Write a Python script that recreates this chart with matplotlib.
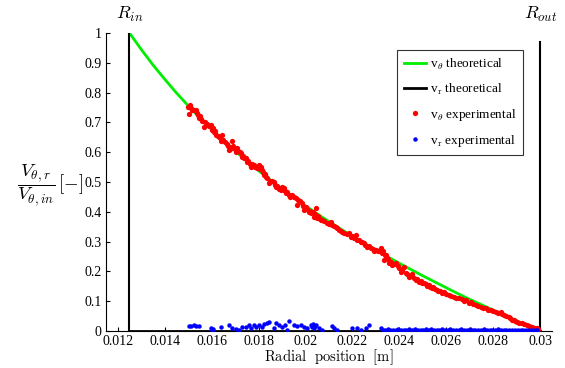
import matplotlib
matplotlib.use("Agg")
import matplotlib.pyplot as plt

plt.rcParams['mathtext.fontset'] = 'cm'
plt.rcParams['font.family'] = ['Liberation Serif', 'DejaVu Serif']

# Theoretical curves
theo_x = [0.0125, 0.0130, 0.0135, 0.0140, 0.0145, 0.0150, 0.0155, 0.0160, 0.0165, 0.0170,
          0.0175, 0.0180, 0.0185, 0.0190, 0.0195, 0.0200, 0.0205, 0.0210, 0.0215, 0.0220,
          0.0225, 0.0230, 0.0235, 0.0240, 0.0245, 0.0250, 0.0255, 0.0260, 0.0265, 0.0270,
          0.0275, 0.0280, 0.0285, 0.0290, 0.0295, 0.0298]
theo_vtheta = [1.000, 0.945, 0.893, 0.845, 0.799, 0.756, 0.715, 0.676, 0.639, 0.604,
               0.570, 0.538, 0.507, 0.477, 0.448, 0.420, 0.393, 0.367, 0.342, 0.318,
               0.294, 0.271, 0.249, 0.227, 0.206, 0.185, 0.165, 0.145, 0.125, 0.106,
               0.088, 0.070, 0.052, 0.034, 0.017, 0.010]
vr_theo_x = [0.0125, 0.0300]
vr_theo_y = [0.0, 0.0]
r_in = 0.0125
r_out = 0.0300

# Experimental v_theta
exp_vt_x = [0.01500, 0.01503, 0.01508, 0.01512, 0.01518, 0.01525, 0.01533, 0.01537, 0.01542, 0.01546,
            0.01550, 0.01555, 0.01560, 0.01567, 0.01572, 0.01580, 0.01588, 0.01597, 0.01601, 0.01606,
            0.01610, 0.01614, 0.01618, 0.01625, 0.01632, 0.01640, 0.01644, 0.01650, 0.01656, 0.01665,
            0.01670, 0.01674, 0.01680, 0.01686, 0.01690, 0.01695, 0.01703, 0.01708, 0.01714, 0.01720,
            0.01725, 0.01729, 0.01735, 0.01740, 0.01746, 0.01750, 0.01756, 0.01762, 0.01767, 0.01772,
            0.01780, 0.01786, 0.01795, 0.01801, 0.01806, 0.01810, 0.01814, 0.01818, 0.01823, 0.01828,
            0.01831, 0.01837, 0.01844, 0.01850, 0.01858, 0.01865, 0.01870, 0.01874, 0.01880, 0.01887,
            0.01895, 0.01900, 0.01908, 0.01912, 0.01916, 0.01922, 0.01929, 0.01935, 0.01942, 0.01950,
            0.01959, 0.01963, 0.01968, 0.01975, 0.01984, 0.01990, 0.01993, 0.02000, 0.02006, 0.02014,
            0.02020, 0.02023, 0.02030, 0.02036, 0.02040, 0.02044, 0.02048, 0.02055, 0.02060, 0.02065,
            0.02072, 0.02080, 0.02091, 0.02100, 0.02108, 0.02112, 0.02120, 0.02129, 0.02135, 0.02142,
            0.02150, 0.02155, 0.02165, 0.02175, 0.02184, 0.02193, 0.02200, 0.02207, 0.02214, 0.02218,
            0.02226, 0.02235, 0.02241, 0.02248, 0.02255, 0.02261, 0.02270, 0.02278, 0.02286, 0.02293,
            0.02300, 0.02310, 0.02321, 0.02325, 0.02330, 0.02334, 0.02338, 0.02342, 0.02346, 0.02350,
            0.02355, 0.02362, 0.02368, 0.02375, 0.02385, 0.02392, 0.02400, 0.02406, 0.02412, 0.02419,
            0.02427, 0.02433, 0.02440, 0.02447, 0.02453, 0.02460, 0.02470, 0.02476, 0.02483, 0.02490,
            0.02497, 0.02504, 0.02512, 0.02518, 0.02525, 0.02532, 0.02538, 0.02545, 0.02552, 0.02559,
            0.02566, 0.02574, 0.02581, 0.02590, 0.02600, 0.02610, 0.02620, 0.02632, 0.02642, 0.02653,
            0.02665, 0.02675, 0.02683, 0.02696, 0.02705, 0.02715, 0.02725, 0.02735, 0.02746, 0.02755,
            0.02768, 0.02778, 0.02789, 0.02800, 0.02810, 0.02820, 0.02831, 0.02838, 0.02844, 0.02852,
            0.02865, 0.02872, 0.02878, 0.02886, 0.02893, 0.02900, 0.02910, 0.02921, 0.02930, 0.02942,
            0.02950, 0.02959, 0.02966, 0.02972, 0.02980, 0.02985, 0.02990]
exp_vt_y = [0.752, 0.728, 0.758, 0.748, 0.740, 0.742, 0.742, 0.732, 0.726, 0.715,
            0.722, 0.711, 0.705, 0.685, 0.700, 0.694, 0.688, 0.691, 0.674, 0.680,
            0.668, 0.672, 0.658, 0.655, 0.650, 0.638, 0.658, 0.640, 0.634, 0.628,
            0.620, 0.607, 0.612, 0.638, 0.622, 0.614, 0.601, 0.614, 0.605, 0.600,
            0.597, 0.584, 0.586, 0.582, 0.580, 0.567, 0.570, 0.560, 0.550, 0.562,
            0.556, 0.552, 0.548, 0.557, 0.545, 0.550, 0.540, 0.532, 0.523, 0.528,
            0.517, 0.512, 0.497, 0.505, 0.502, 0.500, 0.490, 0.483, 0.487, 0.478,
            0.473, 0.482, 0.480, 0.470, 0.463, 0.466, 0.456, 0.450, 0.456, 0.450,
            0.446, 0.423, 0.440, 0.435, 0.430, 0.418, 0.406, 0.415, 0.410, 0.399,
            0.404, 0.396, 0.400, 0.383, 0.392, 0.413, 0.379, 0.385, 0.376, 0.372,
            0.374, 0.368, 0.362, 0.360, 0.366, 0.356, 0.352, 0.349, 0.344, 0.339,
            0.336, 0.332, 0.328, 0.324, 0.329, 0.315, 0.318, 0.312, 0.322, 0.305,
            0.304, 0.299, 0.300, 0.295, 0.290, 0.282, 0.286, 0.279, 0.276, 0.270,
            0.272, 0.268, 0.279, 0.262, 0.268, 0.238, 0.255, 0.255, 0.245, 0.240,
            0.228, 0.232, 0.221, 0.226, 0.228, 0.218, 0.210, 0.198, 0.206, 0.215,
            0.195, 0.190, 0.181, 0.186, 0.190, 0.178, 0.171, 0.175, 0.164, 0.168,
            0.162, 0.161, 0.158, 0.152, 0.154, 0.148, 0.144, 0.146, 0.140, 0.138,
            0.134, 0.133, 0.128, 0.130, 0.124, 0.121, 0.118, 0.114, 0.112, 0.111,
            0.106, 0.102, 0.104, 0.094, 0.096, 0.090, 0.087, 0.085, 0.081, 0.078,
            0.077, 0.072, 0.070, 0.067, 0.064, 0.062, 0.064, 0.056, 0.054, 0.052,
            0.047, 0.042, 0.037, 0.038, 0.032, 0.030, 0.028, 0.027, 0.022, 0.020,
            0.016, 0.013, 0.012, 0.010, 0.008, 0.010, 0.007]

# Experimental v_r
exp_vr_x = [0.01503, 0.01512, 0.01525, 0.01535, 0.01546, 0.01597, 0.01601, 0.01605, 0.01640, 0.01674,
            0.01686, 0.01703, 0.01715, 0.01729, 0.01746, 0.01759, 0.01767, 0.01780, 0.01789, 0.01801,
            0.01814, 0.01823, 0.01835, 0.01844, 0.01865, 0.01874, 0.01887, 0.01899, 0.01912, 0.01921,
            0.01929, 0.01950, 0.01963, 0.01980, 0.01993, 0.02006, 0.02023, 0.02028, 0.02030, 0.02036,
            0.02040, 0.02044, 0.02057, 0.02070, 0.02112, 0.02121, 0.02134, 0.02198, 0.02219, 0.02236,
            0.02257, 0.02270, 0.02321, 0.02330, 0.02340, 0.02350, 0.02360, 0.02372, 0.02385, 0.02395,
            0.02405, 0.02418, 0.02430, 0.02442, 0.02455, 0.02466, 0.02478, 0.02490, 0.02500, 0.02512,
            0.02524, 0.02535, 0.02546, 0.02558, 0.02570, 0.02582, 0.02594, 0.02605, 0.02616, 0.02628,
            0.02640, 0.02652, 0.02664, 0.02676, 0.02688, 0.02700, 0.02712, 0.02724, 0.02736, 0.02748,
            0.02760, 0.02772, 0.02784, 0.02796, 0.02808, 0.02820, 0.02832, 0.02844, 0.02856, 0.02868,
            0.02880, 0.02892, 0.02904, 0.02916, 0.02928, 0.02940, 0.02952, 0.02964, 0.02976, 0.02988]
exp_vr_y = [0.017, 0.018, 0.020, 0.018, 0.017, 0.010, 0.003, 0.007, 0.013, 0.020,
            0.010, 0.007, 0.004, 0.012, 0.012, 0.020, 0.010, 0.020, 0.013, 0.020,
            0.013, 0.023, 0.027, 0.030, 0.010, 0.027, 0.020, 0.013, 0.020, 0.003,
            0.033, 0.020, 0.017, 0.020, 0.013, 0.010, 0.020, 0.013, 0.022, 0.010,
            0.016, 0.020, 0.010, 0.003, 0.017, 0.010, 0.003, 0.010, 0.010, 0.003,
            0.010, 0.020, 0.010, 0.005, 0.003, 0.006, 0.002, 0.005, 0.004, 0.007,
            0.003, 0.005, 0.002, 0.006, 0.004, 0.007, 0.003, 0.005, 0.002, 0.006,
            0.004, 0.007, 0.003, 0.005, 0.002, 0.006, 0.004, 0.003, 0.006, 0.002,
            0.005, 0.003, 0.006, 0.002, 0.004, 0.006, 0.003, 0.005, 0.002, 0.004,
            0.006, 0.003, 0.005, 0.002, 0.004, 0.006, 0.003, 0.005, 0.002, 0.004,
            0.003, 0.005, 0.002, 0.004, 0.003, 0.005, 0.002, 0.004, 0.003, 0.002]

x_ticks = [0.012, 0.014, 0.016, 0.018, 0.020, 0.022, 0.024, 0.026, 0.028, 0.030]
x_tick_labels = ['0.012', '0.014', '0.016', '0.018', '0.02', '0.022', '0.024', '0.026', '0.028', '0.03']
y_ticks = [0, 0.1, 0.2, 0.3, 0.4, 0.5, 0.6, 0.7, 0.8, 0.9, 1.0]
y_tick_labels = ['0', '0.1', '0.2', '0.3', '0.4', '0.5', '0.6', '0.7', '0.8', '0.9', '1']

fig = plt.figure(figsize=(5.65, 3.68), dpi=100)
ax = fig.add_axes([106/565, 1 - 331/368, (552 - 106)/565, (331 - 33)/368])

l1, = ax.plot(theo_x, theo_vtheta, color='#00ee00', lw=2, zorder=2,
              label=r'v$_\theta$ theoretical')
l2, = ax.plot(vr_theo_x, vr_theo_y, color='black', lw=2, zorder=2,
              label=r'v$_\mathrm{r}$ theoretical')
ax.plot([r_in, r_in], [0, 1.0], color='black', lw=1.5, zorder=2)
ax.plot([r_out, r_out], [0, 0.97], color='black', lw=1.5, zorder=2)
s1, = ax.plot(exp_vt_x, exp_vt_y, 'o', color='#ff0000', ms=3.8, mec='none', zorder=3,
              label=r'v$_\theta$ experimental')
s2, = ax.plot(exp_vr_x, exp_vr_y, 'o', color='#0000ff', ms=3.2, mec='none', zorder=3,
              label=r'v$_\mathrm{r}$ experimental')

ax.set_xlim(0.0115, 0.0305)
ax.set_ylim(0, 1)
ax.set_xticks(x_ticks)
ax.set_xticklabels(x_tick_labels)
ax.set_yticks(y_ticks)
ax.set_yticklabels(y_tick_labels)
ax.tick_params(direction='in', length=3, width=0.8, labelsize=10, pad=3)
for sp in ['top', 'right']:
    ax.spines[sp].set_visible(False)
for sp in ['left', 'bottom']:
    ax.spines[sp].set_linewidth(0.8)

ax.text(r_in, 1.063, r'$R_{in}$', ha='center', va='center', fontsize=13, clip_on=False)
ax.text(r_out, 1.063, r'$R_{out}$', ha='center', va='center', fontsize=13, clip_on=False)

fig.text(329/565, 1 - 357/368, r'$\mathrm{Radial\ \ position\ \ [m]}$', fontsize=10.5,
         ha='center', va='center')
fig.text(50/565, 1 - 185/368, r'$\dfrac{V_{\theta,r}}{V_{\theta,in}}\,[-]$', fontsize=13.5,
         ha='center', va='center')

leg = ax.legend(handles=[l1, l2, s1, s2], loc='upper left',
                bbox_to_anchor=(397/565, 1 - 50/368), bbox_transform=fig.transFigure,
                borderaxespad=0, fancybox=False, frameon=True, fontsize=9.5,
                handlelength=1.7, handletextpad=0.3, labelspacing=0.75, borderpad=0.5,
                markerscale=1.0)
leg.get_frame().set_edgecolor('black')
leg.get_frame().set_linewidth(0.8)

fig.savefig('out.png', dpi=100)
